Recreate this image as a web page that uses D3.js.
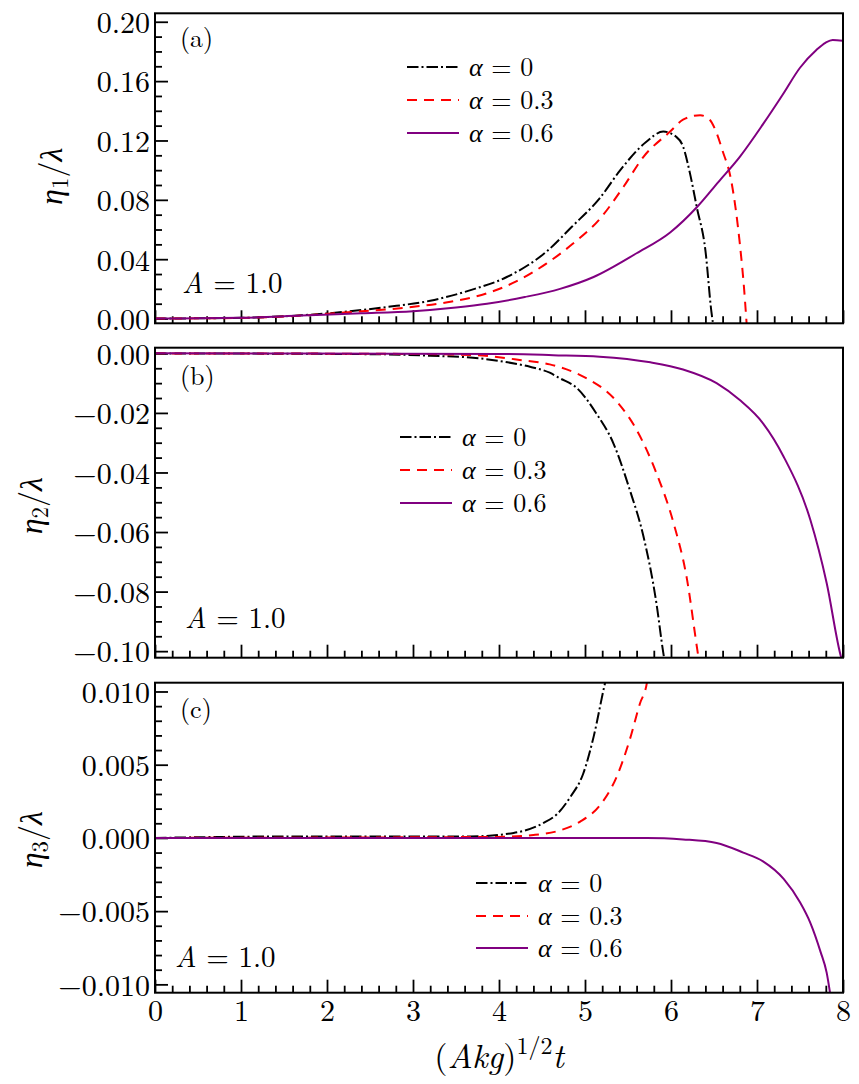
<!DOCTYPE html>
<html>
<head>
<meta charset="utf-8">
<script src="https://cdn.jsdelivr.net/npm/d3@7"></script>
<style>
  body { margin: 0; background: #fff; }
</style>
</head>
<body>
<div id="chart"></div>
<script>
// ---------------- data ----------------
// x axis: (Akg)^{1/2} t
var xDomain = [0, 8];
var xMajorTicks = [0, 1, 2, 3, 4, 5, 6, 7, 8];
var alphaLabels = ['0', '0.3', '0.6'];
var panelTags = ['(a)', '(b)', '(c)'];
var ampLabel = '1.0';

// panel (a) eta_1 / lambda
var eta1Alpha0 = [[0, 0], [1, 0.0005], [1.7, 0.0022], [2.2, 0.0045], [2.7, 0.0078], [3.2, 0.012], [3.66, 0.019], [4.09, 0.028], [4.55, 0.045], [4.85, 0.062], [5.17, 0.081], [5.41, 0.1], [5.71, 0.119], [5.91, 0.126], [6.06, 0.1225], [6.14, 0.116], [6.22, 0.098], [6.3, 0.075], [6.4, 0.046], [6.47, 0.0045], [6.49, -0.004]];
var eta1Alpha03 = [[0, 0], [1, 0.0004], [1.7, 0.002], [2.2, 0.004], [2.85, 0.007], [3.4, 0.011], [3.86, 0.017], [4.2, 0.025], [4.55, 0.037], [4.85, 0.05], [5.17, 0.067], [5.45, 0.089], [5.68, 0.109], [5.99, 0.126], [6.14, 0.134], [6.34, 0.137], [6.45, 0.134], [6.53, 0.125], [6.6, 0.113], [6.7, 0.093], [6.8, 0.0506], [6.85, 0.02], [6.88, -0.004]];
var eta1Alpha06 = [[0, 0], [1, 0.0005], [1.7, 0.002], [2.4, 0.0035], [3, 0.005], [3.5, 0.0075], [3.86, 0.01], [4.3, 0.0145], [4.71, 0.02], [5.1, 0.028], [5.6, 0.044], [5.99, 0.058], [6.3, 0.075], [6.55, 0.092], [6.8, 0.109], [7.07, 0.131], [7.3, 0.151], [7.5, 0.169], [7.69, 0.181], [7.8, 0.186], [7.88, 0.1877], [8, 0.1872]];

// panel (b) eta_2 / lambda
var eta2Alpha0 = [[0, 0], [2.6, -0.0003], [3.2, -0.0008], [3.78, -0.0017], [4.1, -0.003], [4.36, -0.0045], [4.59, -0.0065], [4.71, -0.0084], [4.9, -0.0115], [5.13, -0.0201], [5.33, -0.0302], [5.52, -0.0458], [5.68, -0.0615], [5.83, -0.0838], [5.91, -0.1005], [5.93, -0.104]];
var eta2Alpha03 = [[0, 0], [3, -0.0002], [3.71, -0.0006], [4.24, -0.0022], [4.59, -0.0037], [4.9, -0.0067], [4.98, -0.0078], [5.37, -0.0162], [5.6, -0.0257], [5.83, -0.0402], [6.03, -0.057], [6.18, -0.0749], [6.32, -0.1022], [6.33, -0.104]];
var eta2Alpha06 = [[0, 0], [4, -0.0002], [4.63, -0.0006], [5.17, -0.0011], [5.76, -0.003], [6.14, -0.0054], [6.53, -0.01], [6.8, -0.0157], [7.07, -0.0235], [7.31, -0.0347], [7.62, -0.0559], [7.81, -0.0771], [7.98, -0.1022], [8, -0.104]];

// panel (c) eta_3 / lambda
var eta3Alpha0 = [[0, 0], [1.6, 0.0001], [3.66, 0.0001], [4.17, 0.00034], [4.51, 0.001], [4.67, 0.0016], [4.83, 0.0028], [4.98, 0.0044], [5.1, 0.0069], [5.23, 0.0105], [5.25, 0.011]];
var eta3Alpha03 = [[0, 0], [3.97, 0.00007], [4.4, 0.0002], [4.67, 0.00045], [4.94, 0.0011], [5.17, 0.0022], [5.37, 0.0042], [5.52, 0.0067], [5.64, 0.0092], [5.72, 0.0106], [5.73, 0.011]];
var eta3Alpha06 = [[0, 0], [5.72, 0], [6.14, -0.0001], [6.53, -0.00034], [6.84, -0.001], [7.07, -0.0016], [7.31, -0.0028], [7.5, -0.0044], [7.62, -0.0058], [7.74, -0.0078], [7.81, -0.0092], [7.86, -0.011]];

// y tick values
var yTicksA = [0, 0.04, 0.08, 0.12, 0.16, 0.2];
var yTicksB = [0, -0.02, -0.04, -0.06, -0.08, -0.1];
var yTicksC = [0.01, 0.005, 0, -0.005, -0.01];

function Chart() {
  // Exposed variables
  var attrs = {
    svgWidth: 859,
    svgHeight: 1084,
    marginLeft: 155,
    chartWidth: 688,
    panelHeight: 310,
    panelTops: [13.3, 347.7, 682.7],
    container: 'body',
    font: "'Latin Modern Roman', 'Liberation Serif', serif",
    greekFont: "'Liberation Serif', serif",
    colors: ['#000000', '#ff0000', '#800080'],
    dashes: ['11.5,3,2,3', '10,7', null],
    lineWidth: 2,
    panels: []
  };

  var main = function() {
    var container = d3.select(attrs.container);

    var svg = container.append('svg')
      .attr('width', attrs.svgWidth)
      .attr('height', attrs.svgHeight);

    var x = d3.scaleLinear().domain(xDomain).range([0, attrs.chartWidth]);
    var xMinor = d3.range(0, 8.001, 0.2).filter(v => Math.abs(v - Math.round(v)) > 1e-6);

    // text helper: always set the family inline
    var addText = function(sel, size) {
      return sel.append('text').style('font-family', attrs.font).attr('font-size', size).attr('fill', '#000');
    };
    var greek = function(t, ch) {
      t.append('tspan').style('font-family', attrs.greekFont).attr('font-style', 'italic').text(ch);
    };

    attrs.panels.forEach(function(p, i) {
      var top = attrs.panelTops[i];
      var h = attrs.panelHeight;
      var y = d3.scaleLinear().domain(p.yDomain).range([h, 0]);

      var g = svg.append('g').attr('transform', 'translate(' + attrs.marginLeft + ',' + top + ')');

      g.append('clipPath').attr('id', 'clip' + i)
        .append('rect').attr('width', attrs.chartWidth).attr('height', h);

      // minor + major ticks, pointing inward
      var yMinor = d3.range(p.yDomain[0], p.yDomain[1], p.minorStep)
        .map(v => Math.round(v / p.minorStep) * p.minorStep)
        .filter(v => v >= p.yDomain[0] && v <= p.yDomain[1])
        .filter(v => p.yTicks.every(t => Math.abs(t - v) > 1e-9));

      g.append('g').attr('class', 'y-minor')
        .call(d3.axisLeft(y).tickValues(yMinor).tickSize(-7).tickFormat(''));
      g.append('g').attr('class', 'y-major')
        .call(d3.axisLeft(y).tickValues(p.yTicks).tickSize(-13).tickPadding(5).tickFormat(d3.format(p.fmt)));

      g.append('g').attr('class', 'x-minor').attr('transform', 'translate(0,' + h + ')')
        .call(d3.axisBottom(x).tickValues(xMinor).tickSize(-7).tickFormat(''));
      g.append('g').attr('class', 'x-major').attr('transform', 'translate(0,' + h + ')')
        .call(d3.axisBottom(x).tickValues(xMajorTicks).tickSize(-13).tickPadding(7)
          .tickFormat(i === 2 ? d3.format('d') : ''));

      g.selectAll('.domain').remove();
      g.selectAll('.tick line').attr('stroke', '#000').attr('stroke-width', 1.8);
      g.selectAll('.tick text')
        .style('font-family', attrs.font)
        .attr('font-size', 30)
        .attr('fill', '#000');
      g.selectAll('.y-major .tick text').attr('dy', '0.36em');

      // series lines
      var line = d3.line().x(d => x(d[0])).y(d => y(d[1])).curve(d3.curveMonotoneX);
      var lines = g.append('g').attr('clip-path', 'url(#clip' + i + ')');
      p.series.forEach(function(s, k) {
        lines.append('path')
          .datum(s)
          .attr('d', line)
          .attr('fill', 'none')
          .attr('stroke', attrs.colors[k])
          .attr('stroke-width', attrs.lineWidth)
          .attr('stroke-dasharray', attrs.dashes[k]);
      });

      // frame
      g.append('rect')
        .attr('width', attrs.chartWidth)
        .attr('height', h)
        .attr('fill', 'none')
        .attr('stroke', '#000')
        .attr('stroke-width', 2);

      // legend
      var leg = g.append('g').attr('transform', 'translate(' + p.legendX + ',0)');
      alphaLabels.forEach(function(lab, k) {
        var ly = p.legendY[k];
        leg.append('line')
          .attr('x1', 0).attr('x2', 52).attr('y1', ly).attr('y2', ly)
          .attr('stroke', attrs.colors[k])
          .attr('stroke-width', attrs.lineWidth)
          .attr('stroke-dasharray', attrs.dashes[k]);
        var t = addText(leg, 26).attr('x', 62).attr('y', ly).attr('dy', '0.34em');
        greek(t, '\u03b1');
        t.append('tspan').text(' = ' + lab);
      });

      // panel tag
      addText(g, 26).attr('x', 25).attr('y', p.tagY).text(panelTags[i]);

      // amplitude annotation
      var a = addText(g, 29).attr('x', p.ampX).attr('y', p.ampY);
      a.append('tspan').attr('font-style', 'italic').text('A');
      a.append('tspan').text(' = ' + ampLabel);

      // y label
      var yl = addText(svg, 32)
        .attr('transform', 'translate(' + p.yLabelX + ',' + (top + h / 2 + p.yLabelShift) + ') rotate(-90)')
        .attr('text-anchor', 'middle');
      greek(yl, '\u03b7');
      yl.append('tspan').attr('font-size', 23).attr('dy', 6).text(p.sub);
      yl.append('tspan').attr('dy', -6).text('/');
      greek(yl, '\u03bb');
    });

    // x label
    var xl = addText(svg, 34)
      .attr('x', attrs.marginLeft + attrs.chartWidth / 2)
      .attr('y', 1068)
      .attr('text-anchor', 'middle');
    xl.append('tspan').text('(');
    xl.append('tspan').attr('font-style', 'italic').text('Akg');
    xl.append('tspan').text(')');
    xl.append('tspan').attr('font-size', 24).attr('dy', -14).text('1/2');
    xl.append('tspan').attr('font-style', 'italic').attr('dy', 14).text('t');
  };

  Object.keys(attrs).forEach(function(key) {
    main[key] = function(_) {
      if (!arguments.length) return attrs[key];
      attrs[key] = _;
      return main;
    };
  });

  main.render = function() {
    main();
    return main;
  };

  return main;
}

Chart()
  .container('#chart')
  .panels([
    {
      series: [eta1Alpha0, eta1Alpha03, eta1Alpha06],
      yDomain: [-0.0032, 0.2057], yTicks: yTicksA, minorStep: 0.01, fmt: '.2f', sub: '1',
      legendX: 252, legendY: [53.7, 86.7, 119.7], tagY: 33.5, ampX: 27, ampY: 280, yLabelX: 62, yLabelShift: 8
    },
    {
      series: [eta2Alpha0, eta2Alpha03, eta2Alpha06],
      yDomain: [-0.1022, 0.0019], yTicks: yTicksB, minorStep: 0.005, fmt: '.2f', sub: '2',
      legendX: 245, legendY: [89.3, 122.3, 155.3], tagY: 37, ampX: 30, ampY: 280.3, yLabelX: 42, yLabelShift: 3
    },
    {
      series: [eta3Alpha0, eta3Alpha03, eta3Alpha06],
      yDomain: [-0.01057, 0.0106], yTicks: yTicksC, minorStep: 0.001, fmt: '.3f', sub: '3',
      legendX: 321, legendY: [200.3, 233.3, 265.3], tagY: 35.3, ampX: 20, ampY: 284.3, yLabelX: 42, yLabelShift: 2
    }
  ])
  .render();
</script>
</body>
</html>
